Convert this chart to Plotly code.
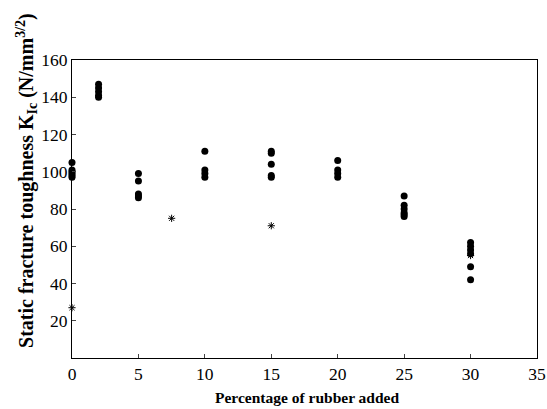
import plotly.graph_objects as go

# Data
dots_x = [0]*6 + [2]*5 + [5]*5 + [10]*4 + [15]*5 + [20]*4 + [25]*6 + [30]*6
dots_y = [105, 101, 100, 99, 98, 97,
          147, 145, 143, 141, 140,
          99, 95, 88, 87, 86,
          111, 101, 99, 97,
          111, 110, 104, 98, 97,
          106, 101, 99, 97,
          87, 82, 80, 78, 77, 76,
          62, 60, 58, 56, 49, 42]
star_x = [0, 7.5, 15, 30]
star_y = [27, 75, 71, 55]
x_ticks = [0, 5, 10, 15, 20, 25, 30, 35]
y_ticks = [20, 40, 60, 80, 100, 120, 140, 160]

font = "Liberation Serif"

fig = go.Figure()
fig.add_trace(go.Scatter(x=dots_x, y=dots_y, mode="markers",
                         marker=dict(color="black", size=7, symbol="circle"),
                         showlegend=False, cliponaxis=False))
fig.add_trace(go.Scatter(x=star_x, y=star_y, mode="markers",
                         marker=dict(color="black", size=6, symbol="asterisk-open",
                                     line=dict(color="black", width=1)),
                         showlegend=False, cliponaxis=False))

fig.update_layout(
    width=547, height=409,
    margin=dict(l=72, r=10, t=60, b=51, autoexpand=False),
    paper_bgcolor="white", plot_bgcolor="white",
    font=dict(family=font, size=17, color="black"),
    xaxis=dict(range=[0, 35], tickvals=x_ticks, ticks="inside", ticklen=4,
               showline=True, linecolor="black", linewidth=1, mirror=True,
               showgrid=False, zeroline=False, automargin=False,
               tickfont=dict(size=17.5)),
    yaxis=dict(range=[0, 160], tickvals=y_ticks, ticks="inside", ticklen=4,
               showline=True, linecolor="black", linewidth=1, mirror=True,
               showgrid=False, zeroline=False, automargin=False,
               tickfont=dict(size=17.5)),
    annotations=[
        dict(text="<b>Percentage of rubber added</b>", xref="paper", yref="paper",
             x=0.505, y=-0.131, xanchor="center", yanchor="middle",
             showarrow=False, font=dict(size=15.5, family=font)),
        dict(text="<b>Static fracture toughness K<sub>Ic</sub> (N/mm<sup>3/2</sup>)</b>",
             xref="paper", yref="paper", x=-0.097, y=0.597, textangle=-90,
             xanchor="center", yanchor="middle", showarrow=False,
             font=dict(size=20, family=font)),
    ],
)

fig.write_html("out.html", config={"displayModeBar": False},
               post_script="document.body.style.margin='0';document.body.style.overflow='hidden';")
